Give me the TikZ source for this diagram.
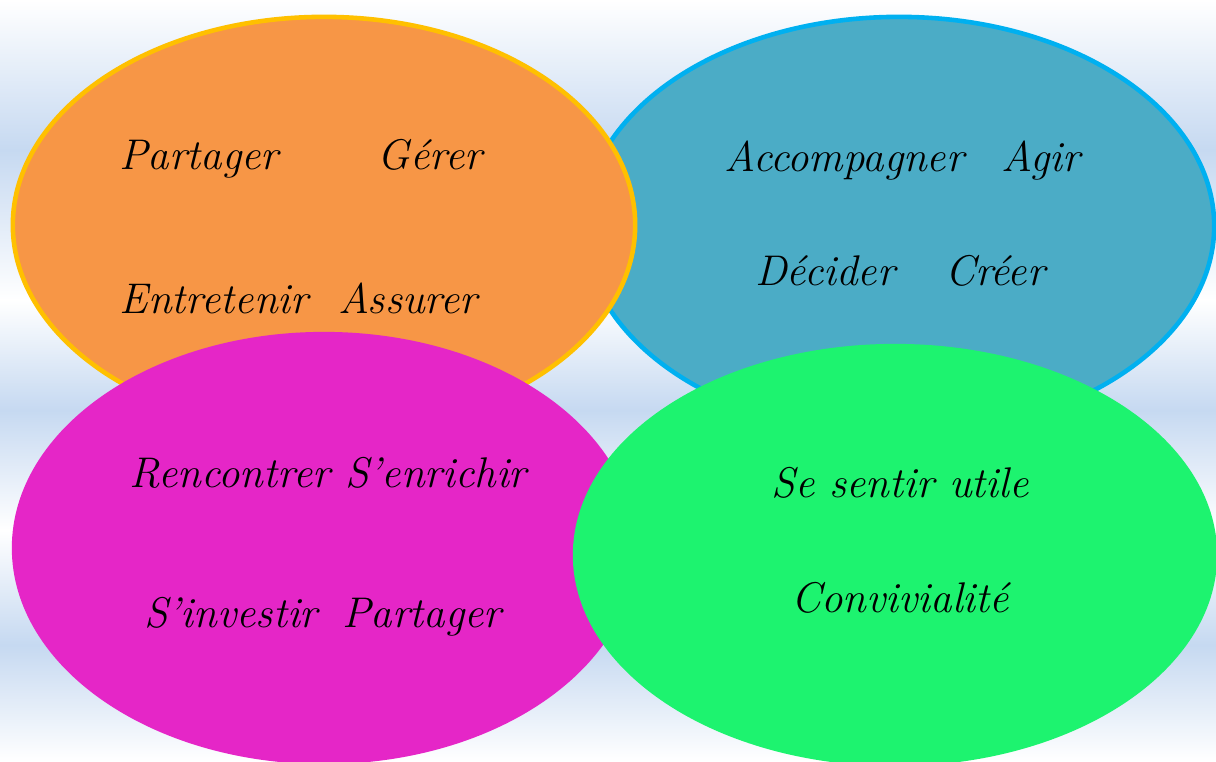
\documentclass[tikz,border=0pt]{standalone}
\usepackage{fontspec}
\usetikzlibrary{shapes.geometric}

\definecolor{paleblue}{HTML}{C6D9F1}
\definecolor{orangefill}{HTML}{F79646}
\definecolor{goldline}{HTML}{FFC000}
\definecolor{tealfill}{HTML}{4BACC6}
\definecolor{cyanline}{HTML}{00B0F0}
\definecolor{pinkfill}{HTML}{E526C7}
\definecolor{greenfill}{HTML}{1DF36F}

\begin{document}
\begin{tikzpicture}[x=0.01cm, y=-0.01cm,
    blob/.style={ellipse, inner sep=0pt},
    word/.style={anchor=base, inner sep=0pt, font=\fontsize{12.2}{14}\selectfont\itshape}]
\useasboundingbox (0,0) rectangle (1216,761);

% background bands
\shade[top color=white, bottom color=paleblue] (0,0) rectangle (1216,150);
\shade[top color=paleblue, bottom color=white] (0,150) rectangle (1216,300);
\shade[top color=white, bottom color=paleblue] (0,300) rectangle (1216,410);
\shade[top color=paleblue, bottom color=white] (0,410) rectangle (1216,530);
\shade[top color=white, bottom color=paleblue] (0,530) rectangle (1216,645);
\shade[top color=paleblue, bottom color=white] (0,645) rectangle (1216,761);

% the four ellipses
\node (act) at (899,226) [blob, fill=tealfill, draw=cyanline, line width=1.3pt,
    minimum width=6.30cm, minimum height=4.18cm] {};
\node (share) at (324,225) [blob, fill=orangefill, draw=goldline, line width=1.3pt,
    minimum width=6.22cm, minimum height=4.16cm] {};
\node (meet) at (324,548) [blob, fill=pinkfill,
    minimum width=6.24cm, minimum height=4.32cm] {};
\node (feel) at (895,555) [blob, fill=greenfill,
    minimum width=6.44cm, minimum height=4.22cm] {};

\begin{scope}[every node/.style={word}]
    \node (partager) at (199,170) {Partager};
    \node (gerer) at (430,170) {Gérer};
    \node (entretenir) at (214,314) {Entretenir};
    \node (assurer) at (408,314) {Assurer};

    \node (accompagner) at (844,172) {Accompagner};
    \node (agir) at (1041,172) {Agir};
    \node (decider) at (825,285) {Décider};
    \node (creer) at (995,285) {Créer};

    \node (rencontrer) at (230,487) {Rencontrer};
    \node (enrichir) at (436,487) {S'enrichir};
    \node (investir) at (231,627) {S'investir};
    \node (partager2) at (422,627) {Partager};

    \node (utile) at (900,497) {Se sentir utile};
    \node (convivialite) at (900,612) {Convivialité};
\end{scope}
\end{tikzpicture}
\end{document}
